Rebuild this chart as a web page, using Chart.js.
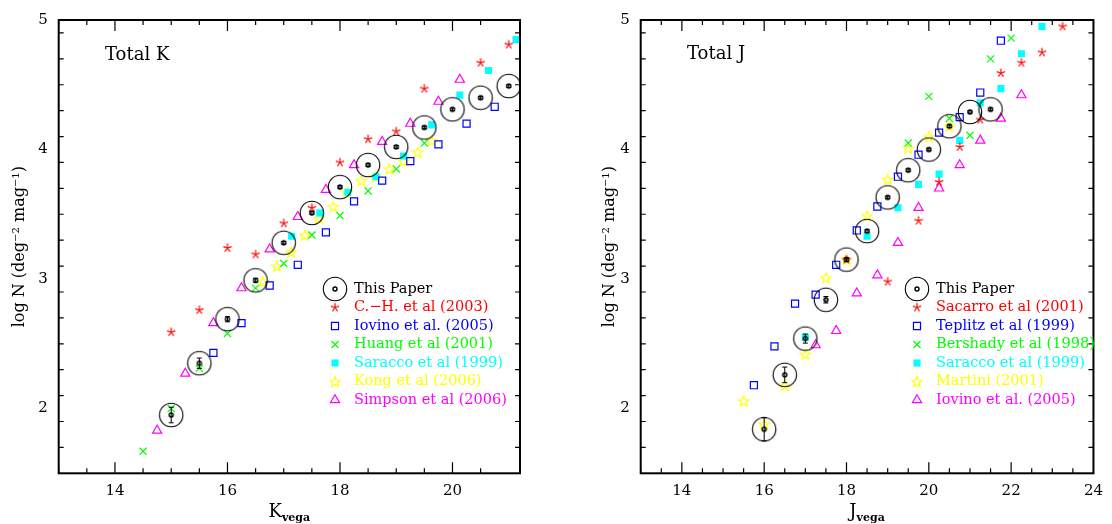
<!DOCTYPE html>
<html>
<head>
<meta charset="utf-8">
<title>Number counts</title>
<script src="https://cdn.jsdelivr.net/npm/chart.js@4.4.1/dist/chart.umd.min.js"></script>
<style>
  body { margin: 0; background: #fff; }
  #wrap { position: relative; width: 1112px; height: 524px; }
  canvas { position: absolute; top: 0; }
</style>
</head>
<body>
<div id="wrap">
  <canvas id="kChart" width="556" height="524" style="left:0"></canvas>
  <canvas id="jChart" width="556" height="524" style="left:556px"></canvas>
</div>
<script>
// ---- K band counts ----
const kThisX = [15, 15.5, 16, 16.5, 17, 17.5, 18, 18.5, 19, 19.5, 20, 20.5, 21];
const kThisY = [1.95, 2.35, 2.69, 2.99, 3.28, 3.51, 3.71, 3.88, 4.02, 4.17, 4.31, 4.40, 4.49];
const kThisErr = [0.06, 0.04, 0.02, 0.015, 0.01, 0.01, 0.01, 0.01, 0.01, 0.01, 0.01, 0.01, 0.01];

const kChX = [15, 15.5, 16, 16.5, 17, 17.5, 18, 18.5, 19, 19.5, 20.5, 21];
const kChY = [2.59, 2.76, 3.24, 3.19, 3.43, 3.55, 3.90, 4.08, 4.14, 4.47, 4.67, 4.81];

const kIovX = [15.75, 16.25, 16.75, 17.25, 17.75, 18.25, 18.75, 19.25, 19.75, 20.25, 20.75];
const kIovY = [2.43, 2.66, 2.95, 3.11, 3.36, 3.60, 3.76, 3.91, 4.04, 4.20, 4.33];

const kHuX = [14.5, 15, 15.5, 16, 16.5, 17, 17.5, 18, 18.5, 19, 19.5];
const kHuY = [1.67, 2.00, 2.31, 2.58, 2.93, 3.12, 3.34, 3.49, 3.68, 3.85, 4.05];

const kSarX = [17.14, 17.64, 18.14, 18.64, 19.13, 19.63, 20.13, 20.64, 21.13];
const kSarY = [3.33, 3.51, 3.67, 3.79, 3.95, 4.19, 4.42, 4.61, 4.85];

const kKongX = [16.63, 16.88, 17.13, 17.38, 17.63, 17.88, 18.13, 18.38, 18.63, 18.88, 19.13, 19.38, 19.63];
const kKongY = [2.98, 3.10, 3.21, 3.34, 3.47, 3.56, 3.67, 3.76, 3.79, 3.85, 3.91, 3.98, 4.07];

const kSimX = [14.75, 15.25, 15.75, 16.25, 16.75, 17.25, 17.75, 18.25, 18.75, 19.25, 19.75, 20.13];
const kSimY = [1.83, 2.27, 2.66, 2.93, 3.23, 3.48, 3.69, 3.88, 4.06, 4.20, 4.37, 4.54];

// ---- J band counts ----
const jThisX = [16, 16.5, 17, 17.5, 18, 18.5, 19, 19.5, 20, 20.5, 21, 21.5];
const jThisY = [1.84, 2.26, 2.54, 2.84, 3.15, 3.37, 3.63, 3.84, 4.00, 4.18, 4.29, 4.31];
const jThisErr = [0.09, 0.06, 0.035, 0.025, 0.015, 0.01, 0.01, 0.01, 0.01, 0.01, 0.01, 0.01];

const jSacX = [18, 19, 19.75, 20.25, 20.75, 21.25, 21.75, 22.25, 22.75, 23.25];
const jSacY = [3.15, 2.98, 3.45, 3.75, 4.02, 4.23, 4.59, 4.67, 4.75, 4.95];

const jTepX = [15.75, 16.25, 16.75, 17.25, 17.75, 18.25, 18.75, 19.25, 19.75, 20.25, 20.75, 21.25, 21.75];
const jTepY = [2.18, 2.48, 2.81, 2.88, 3.11, 3.375, 3.56, 3.79, 3.96, 4.13, 4.25, 4.44, 4.84];

const jBerX = [19.5, 20, 20.5, 21, 21.5, 22];
const jBerY = [4.05, 4.41, 4.24, 4.11, 4.70, 4.86];

const jSarX = [17, 18.5, 19.25, 19.75, 20.25, 20.75, 21.25, 21.75, 22.25, 22.75];
const jSarY = [2.55, 3.33, 3.55, 3.73, 3.81, 4.07, 4.36, 4.47, 4.74, 4.95];

const jMarX = [15.5, 16, 16.5, 17, 17.5, 18, 18.5, 19, 19.5, 20, 20.5];
const jMarY = [2.06, 1.88, 2.18, 2.42, 3.01, 3.15, 3.49, 3.77, 4.01, 4.10, 4.18];

const jIovX = [17.25, 17.75, 18.25, 18.75, 19.25, 19.75, 20.25, 20.75, 21.25, 21.75, 22.25];
const jIovY = [2.49, 2.60, 2.89, 3.03, 3.28, 3.55, 3.70, 3.88, 4.07, 4.24, 4.42];

// ---- axes ----
const kXTicks = [14, 16, 18, 20];
const jXTicks = [14, 16, 18, 20, 22, 24];
const yTicks = [2, 3, 4, 5];

const FONT = '"DejaVu Serif", serif';
Chart.defaults.font.family = FONT;
Chart.defaults.color = '#000';

function pts(xs, ys) {
  return xs.map((x, i) => ({ x: x, y: ys[i] }));
}

function markerCanvas(size, paint) {
  const c = document.createElement('canvas');
  c.width = size;
  c.height = size;
  paint(c.getContext('2d'), size / 2);
  return c;
}

// big open circle with a small ring in the middle
const circleMark = markerCanvas(28, (g, c) => {
  g.strokeStyle = '#000';
  g.lineWidth = 1.1;
  g.beginPath();
  g.arc(c, c, 11.7, 0, Math.PI * 2);
  g.stroke();
  g.lineWidth = 1.4;
  g.beginPath();
  g.arc(c, c, 2, 0, Math.PI * 2);
  g.stroke();
});

// five armed asterisk
const asteriskMark = markerCanvas(12, (g, c) => {
  g.strokeStyle = '#ff0000';
  g.lineWidth = 1.2;
  g.beginPath();
  for (let k = 0; k < 5; k++) {
    const a = -Math.PI / 2 + k * 2 * Math.PI / 5;
    g.moveTo(c, c);
    g.lineTo(c + 4.4 * Math.cos(a), c + 4.4 * Math.sin(a));
  }
  g.stroke();
});

// open five pointed star
const starMark = markerCanvas(14, (g, c) => {
  g.strokeStyle = '#ffff00';
  g.lineWidth = 1.2;
  g.beginPath();
  for (let k = 0; k < 10; k++) {
    const r = k % 2 ? 2.3 : 5.4;
    const a = -Math.PI / 2 + k * Math.PI / 5;
    const px = c + r * Math.cos(a), py = c + 0.6 + r * Math.sin(a);
    if (k === 0) g.moveTo(px, py); else g.lineTo(px, py);
  }
  g.closePath();
  g.stroke();
});

function thisPaper(xs, ys) {
  return { label: 'This Paper', data: pts(xs, ys), pointStyle: circleMark, textColor: '#000' };
}
function asterisks(label, xs, ys) {
  return { label: label, data: pts(xs, ys), pointStyle: asteriskMark, textColor: '#ff0000' };
}
function openSquares(label, xs, ys) {
  return { label: label, data: pts(xs, ys), pointStyle: 'rect', pointRadius: 5, borderWidth: 1.2,
           borderColor: '#0000ff', backgroundColor: 'rgba(0,0,0,0)', textColor: '#0000ff' };
}
function crosses(label, xs, ys) {
  return { label: label, data: pts(xs, ys), pointStyle: 'crossRot', pointRadius: 5, borderWidth: 1.2,
           borderColor: '#00ff00', backgroundColor: '#00ff00', textColor: '#00ff00' };
}
function filledSquares(label, xs, ys) {
  return { label: label, data: pts(xs, ys), pointStyle: 'rect', pointRadius: 5, borderWidth: 0,
           borderColor: '#00ffff', backgroundColor: '#00ffff', textColor: '#00ffff' };
}
function stars(label, xs, ys) {
  return { label: label, data: pts(xs, ys), pointStyle: starMark, textColor: '#ffff00' };
}
function triangles(label, xs, ys) {
  return { label: label, data: pts(xs, ys), pointStyle: 'triangle', pointRadius: 5.3, borderWidth: 1.2,
           borderColor: '#ff00ff', backgroundColor: 'rgba(0,0,0,0)', textColor: '#ff00ff' };
}

// box with inward ticks on all four sides
const framePlugin = {
  id: 'frame',
  afterDraw(chart, args, opts) {
    const { ctx, chartArea: a, scales: { x, y } } = chart;
    ctx.save();
    ctx.strokeStyle = '#000';
    ctx.lineWidth = 1.2;
    ctx.beginPath();
    const nx = Math.round((x.max - x.min) / 0.5);
    for (let i = 1; i < nx + 1; i++) {
      const v = Math.ceil(x.min * 2) / 2 + (i - 1) * 0.5;
      if (v >= x.max) break;
      const len = opts.xMajor.includes(v) ? 11 : 5;
      const px = x.getPixelForValue(v);
      ctx.moveTo(px, a.bottom); ctx.lineTo(px, a.bottom - len);
      ctx.moveTo(px, a.top); ctx.lineTo(px, a.top + len);
    }
    for (let i = 1; i < 18; i++) {
      const v = Math.round((y.min + i * 0.2) * 10) / 10;
      if (v >= y.max) break;
      const len = yTicks.includes(v) ? 11 : 5;
      const py = y.getPixelForValue(v);
      ctx.moveTo(a.left, py); ctx.lineTo(a.left + len, py);
      ctx.moveTo(a.right, py); ctx.lineTo(a.right - len, py);
    }
    ctx.stroke();
    ctx.lineWidth = 2;
    ctx.strokeRect(a.left, a.top, a.right - a.left, a.bottom - a.top);
    ctx.restore();
  }
};

// vertical error bars on the first dataset
const errorBarPlugin = {
  id: 'errorBars',
  afterDatasetsDraw(chart, args, opts) {
    const { ctx, scales: { x, y } } = chart;
    const data = chart.data.datasets[0].data;
    ctx.save();
    ctx.strokeStyle = '#000';
    ctx.lineWidth = 1;
    ctx.beginPath();
    opts.err.forEach((e, i) => {
      const px = x.getPixelForValue(data[i].x);
      const top = y.getPixelForValue(data[i].y + e);
      const bot = y.getPixelForValue(data[i].y - e);
      ctx.moveTo(px, top); ctx.lineTo(px, bot);
      ctx.moveTo(px - 2.5, top); ctx.lineTo(px + 2.5, top);
      ctx.moveTo(px - 2.5, bot); ctx.lineTo(px + 2.5, bot);
    });
    ctx.stroke();
    ctx.restore();
  }
};

// legend inside the plot, marker then coloured label
const legendPlugin = {
  id: 'insetLegend',
  afterDraw(chart, args, opts) {
    const ctx = chart.ctx;
    ctx.save();
    ctx.font = '14.5px ' + FONT;
    ctx.textBaseline = 'middle';
    chart.data.datasets.forEach((ds, i) => {
      const y = opts.y + i * opts.step;
      const o = chart.getDatasetMeta(i).data[0].options;
      ctx.fillStyle = o.backgroundColor;
      ctx.strokeStyle = o.borderColor;
      ctx.lineWidth = o.borderWidth;
      Chart.helpers.drawPoint(ctx, o, opts.x, y);
      ctx.fillStyle = ds.textColor;
      ctx.fillText(ds.label, opts.x + opts.gap, y);
    });
    ctx.restore();
  }
};

// panel caption and x axis title with subscript
const labelsPlugin = {
  id: 'panelLabels',
  afterDraw(chart, args, opts) {
    const { ctx, chartArea: a } = chart;
    ctx.save();
    ctx.fillStyle = '#000';
    ctx.textBaseline = 'middle';
    ctx.font = '18px ' + FONT;
    ctx.fillText(opts.caption, opts.capX, opts.capY);

    ctx.textBaseline = 'alphabetic';
    ctx.font = '18px ' + FONT;
    const wMain = ctx.measureText(opts.main).width;
    ctx.font = 'bold 11px ' + FONT;
    const wSub = ctx.measureText(opts.sub).width;
    const x0 = (a.left + a.right) / 2 - (wMain + wSub) / 2;
    ctx.font = '18px ' + FONT;
    ctx.fillText(opts.main, x0, 517);
    ctx.font = 'bold 11px ' + FONT;
    ctx.fillText(opts.sub, x0 + wMain, 521);
    ctx.restore();
  }
};

function makeChart(id, datasets, p) {
  return new Chart(document.getElementById(id), {
    type: 'scatter',
    data: { datasets: datasets },
    plugins: [errorBarPlugin, framePlugin, legendPlugin, labelsPlugin],
    options: {
      responsive: false,
      animation: false,
      layout: { padding: { top: 12.6, right: p.padRight, left: 0, bottom: 0 } },
      elements: { point: { radius: 5, hoverRadius: 5 } },
      scales: {
        x: {
          type: 'linear', min: 13, max: p.xMax,
          afterBuildTicks: s => { s.ticks = p.xTicks.map(v => ({ value: v })); },
          afterFit: s => { s.height = 50.7; },
          grid: { display: false, drawTicks: false },
          border: { display: false },
          ticks: { font: { size: 15 }, color: '#000', padding: 9, maxRotation: 0 }
        },
        y: {
          type: 'linear', min: 1.5, max: 5,
          afterBuildTicks: s => { s.ticks = yTicks.map(v => ({ value: v })); },
          afterFit: s => { s.width = p.yWidth; },
          grid: { display: false, drawTicks: false },
          border: { display: false },
          ticks: { font: { size: 15 }, color: '#000', padding: 11 },
          title: { display: true, text: 'log N (deg\u207B\u00B2 mag\u207B\u00B9)',
                   font: { size: 16 }, color: '#000', padding: { top: p.titlePad, bottom: 0 } }
        }
      },
      plugins: {
        legend: { display: false },
        tooltip: { enabled: false },
        errorBars: { err: p.err },
        frame: { xMajor: p.xTicks },
        insetLegend: { x: p.legX, y: 289, step: 18.5, gap: 19 },
        panelLabels: p.labels
      }
    }
  });
}

makeChart('kChart', [
  thisPaper(kThisX, kThisY),
  asterisks('C.\u2212H. et al (2003)', kChX, kChY),
  openSquares('Iovino et al. (2005)', kIovX, kIovY),
  crosses('Huang et al (2001)', kHuX, kHuY),
  filledSquares('Saracco et al (1999)', kSarX, kSarY),
  stars('Kong et al (2006)', kKongX, kKongY),
  triangles('Simpson et al (2006)', kSimX, kSimY)
], {
  xMax: 21.2, xTicks: kXTicks, padRight: 36, yWidth: 58.7, titlePad: 10.7, err: kThisErr,
  legX: 335,
  labels: { caption: 'Total K', capX: 105, capY: 55, main: 'K', sub: 'vega' }
});

makeChart('jChart', [
  thisPaper(jThisX, jThisY),
  asterisks('Sacarro et al (2001)', jSacX, jSacY),
  openSquares('Teplitz et al (1999)', jTepX, jTepY),
  crosses('Bershady et al (1998)', jBerX, jBerY),
  filledSquares('Saracco et al (1999)', jSarX, jSarY),
  stars('Martini (2001)', jMarX, jMarY),
  triangles('Iovino et al. (2005)', jIovX, jIovY)
], {
  xMax: 24, xTicks: jXTicks, padRight: 10.3, yWidth: 84.7, titlePad: 44.4, err: jThisErr,
  legX: 361,
  labels: { caption: 'Total J', capX: 131, capY: 54, main: 'J', sub: 'vega' }
});
</script>
</body>
</html>
